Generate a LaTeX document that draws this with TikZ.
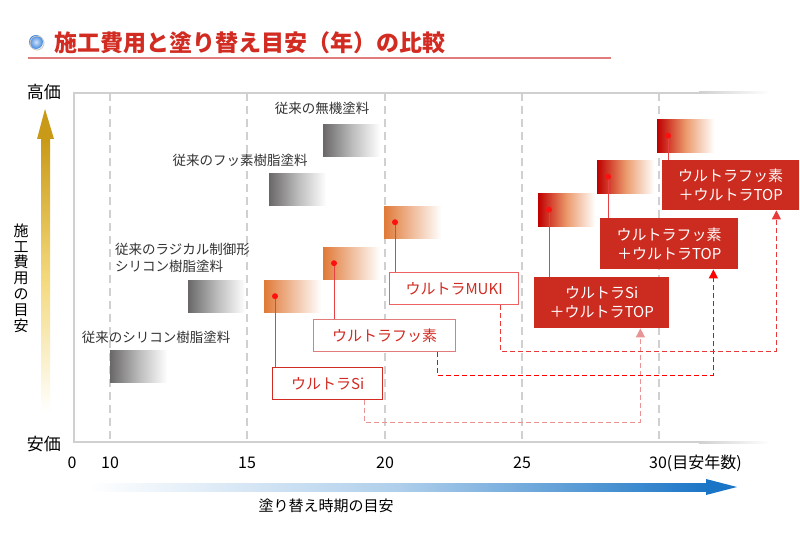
\documentclass[tikz,border=0pt]{standalone}
\usepackage{fontspec}
\setmainfont{Noto Sans CJK JP}
\usetikzlibrary{arrows.meta}
\definecolor{titlered}{HTML}{D12B22}
\definecolor{boxred}{HTML}{CC2B20}
\definecolor{dotred}{HTML}{FF1010}
\definecolor{leadred}{HTML}{E84040}
\definecolor{axisgray}{HTML}{D0D0D0}
\definecolor{bargray}{HTML}{6A6868}
\definecolor{barorange}{HTML}{E07A38}
\definecolor{bardkred}{HTML}{C00000}
\definecolor{barpeach}{HTML}{EC9A6C}
\definecolor{gold}{HTML}{C99A17}
\definecolor{goldlight}{HTML}{F3D87A}
\definecolor{arrblue}{HTML}{1A75C6}
\definecolor{ballblue}{HTML}{3F86E0}
\definecolor{linkpink}{HTML}{E89494}
\definecolor{linkred}{HTML}{E83A3A}
\definecolor{labelgray}{HTML}{333333}
\definecolor{boxline}{HTML}{E07C7C}

\tikzset{
  bar/.style={anchor=north west, inner sep=0pt, minimum width=57pt, minimum height=32pt},
  graybar/.style={bar, left color=bargray, right color=white, middle color=bargray!45},
  orbar/.style={bar, left color=barorange, right color=white, middle color=barorange!50},
  rdbar/.style={bar, minimum height=33pt, left color=bardkred, right color=white, middle color=barpeach},
  lbl/.style={font=\fontsize{13.5}{17}\selectfont, text=labelgray, inner sep=0pt},
  wbox/.style={anchor=north west, inner sep=0pt, draw=boxline, line width=1.2pt, fill=white,
    text=titlered, font=\fontsize{15}{18}\selectfont, minimum height=32pt},
  rbox/.style={anchor=north west, inner sep=0pt, fill=boxred, text=white, align=center,
    font=\fontsize{15}{19}\selectfont},
  lead/.style={draw=leadred, line width=1pt},
  dlink/.style={line width=1.2pt, dash pattern=on 5pt off 3pt, -{Triangle[width=9pt,length=9pt]}},
  gridline/.style={draw=axisgray, line width=2pt, dash pattern=on 8pt off 5pt},
  tick/.style={font=\fontsize{16}{18}\selectfont, inner sep=0pt}
}

\begin{document}
\begin{tikzpicture}[x=1pt,y=-1pt]
\useasboundingbox (0,0) rectangle (800,540);
\fill[white] (0,0) rectangle (800,540);

\shade[inner color=ballblue!25!white, outer color=ballblue] (36,42) circle (7);
\draw[gray!45, line width=0.8pt] (37,43) circle (7);
\node[anchor=west, inner sep=0pt, text=titlered, font=\fontsize{23}{26}\selectfont\bfseries] (title) at (54,43) {施工費用と塗り替え目安（年）の比較};
\draw[boxline, line width=1.5pt] (28,58) -- (611,58);

\foreach \x in {110,247,385,522,659}
  \draw[gridline] (\x,93) -- (\x,442);
\draw[axisgray, line width=2pt] (700,93) -| (74,442) -- (700,442);
\shade[left color=axisgray, right color=white] (699,92) rectangle (770,94);
\shade[left color=axisgray, right color=white] (699,441) rectangle (770,443);

\node[font=\fontsize{17}{20}\selectfont, inner sep=0pt] (hi) at (44,92) {高価};
\node[font=\fontsize{17}{20}\selectfont, inner sep=0pt] (lo) at (44,444) {安価};
\shade[top color=gold, bottom color=white, middle color=goldlight] (41,139) rectangle (50,412);
\fill[gold] (45,109) -- (54,139) -- (37,139) -- cycle;
\node[font=\fontsize{15}{15.8}\selectfont, align=center, inner sep=0pt] (cost) at (21,278) {施\\工\\費\\用\\の\\目\\安};

\foreach \x/\t in {72/0,110/10,247/15,385/20,522/25}
  \node[tick] (t\t) at (\x,463) {\t};
\node[tick, anchor=west] (t30) at (649,463) {30(目安年数)};
\shade[left color=white, right color=arrblue, middle color=arrblue!35] (87,483) rectangle (710,491);
\fill[arrblue] (737,487) -- (706,479) -- (706,495) -- cycle;
\node[font=\fontsize{15}{18}\selectfont, inner sep=0pt] (time) at (326,506) {塗り替え時期の目安};

\node[graybar] (mukiGray) at (323,124) {};
\node[graybar] (fuGray) at (269,173) {};
\node[graybar] (radGray) at (188,280) {};
\node[graybar] (silGray) at (110,350) {};
\node[lbl] (mukiLbl) at (322,108) {従来の無機塗料};
\node[lbl] (fuLbl) at (240,160) {従来のフッ素樹脂塗料};
\node[lbl, anchor=west, align=left] (radLbl) at (115,258) {従来のラジカル制御形\\シリコン樹脂塗料};
\node[lbl] (silLbl) at (156,337) {従来のシリコン樹脂塗料};

\node[orbar] (siBar) at (264,280) {};
\node[orbar] (fuBar) at (323,247) {};
\node[orbar] (mukiBar) at (384,206) {};
\node[rdbar] (siTopBar) at (538,193) {};
\node[rdbar] (fuTopBar) at (597,160) {};
\node[rdbar] (topBar) at (657,119) {};

\node[wbox, draw=titlered, minimum width=110pt] (siBox) at (272,367) {ウルトラSi};
\node[wbox, minimum width=142pt] (fuBox) at (313,319) {ウルトラフッ素};
\node[wbox, draw=linkred!80, minimum width=129pt] (mukiBox) at (389,272) {ウルトラMUKI};
\node[rbox, minimum width=135pt, minimum height=51pt] (siTop) at (534,277) {ウルトラSi\\＋ウルトラTOP};
\node[rbox, minimum width=138pt, minimum height=51pt] (fuTop) at (600,218) {ウルトラフッ素\\＋ウルトラTOP};
\node[rbox, minimum width=137pt, minimum height=50pt] (topBox) at (662,160) {ウルトラフッ素\\＋ウルトラTOP};

\foreach \b/\n in {siBar/siBox,fuBar/fuBox,mukiBar/mukiBox,siTopBar/siTop,fuTopBar/fuTop,topBar/topBox}{
  \path ([xshift=11pt]\b.west) coordinate (d);
  \draw[lead] (d) -- (d |- \n.north);
  \fill[dotred] (d) circle (3);
}

\draw[dlink, draw=linkpink] ([xshift=-19pt]siBox.south east) -- ++(0,22) -| ([xshift=-29pt]siTop.south east);
\draw[dlink, draw=red] ([xshift=-19pt]fuBox.south east) -- ++(0,23) -| ([xshift=-25pt]fuTop.south east);
\draw[dlink, draw=linkred] ([xshift=-19pt]mukiBox.south east) -- ++(0,46) -| ([xshift=-23pt]topBox.south east);
\end{tikzpicture}
\end{document}
